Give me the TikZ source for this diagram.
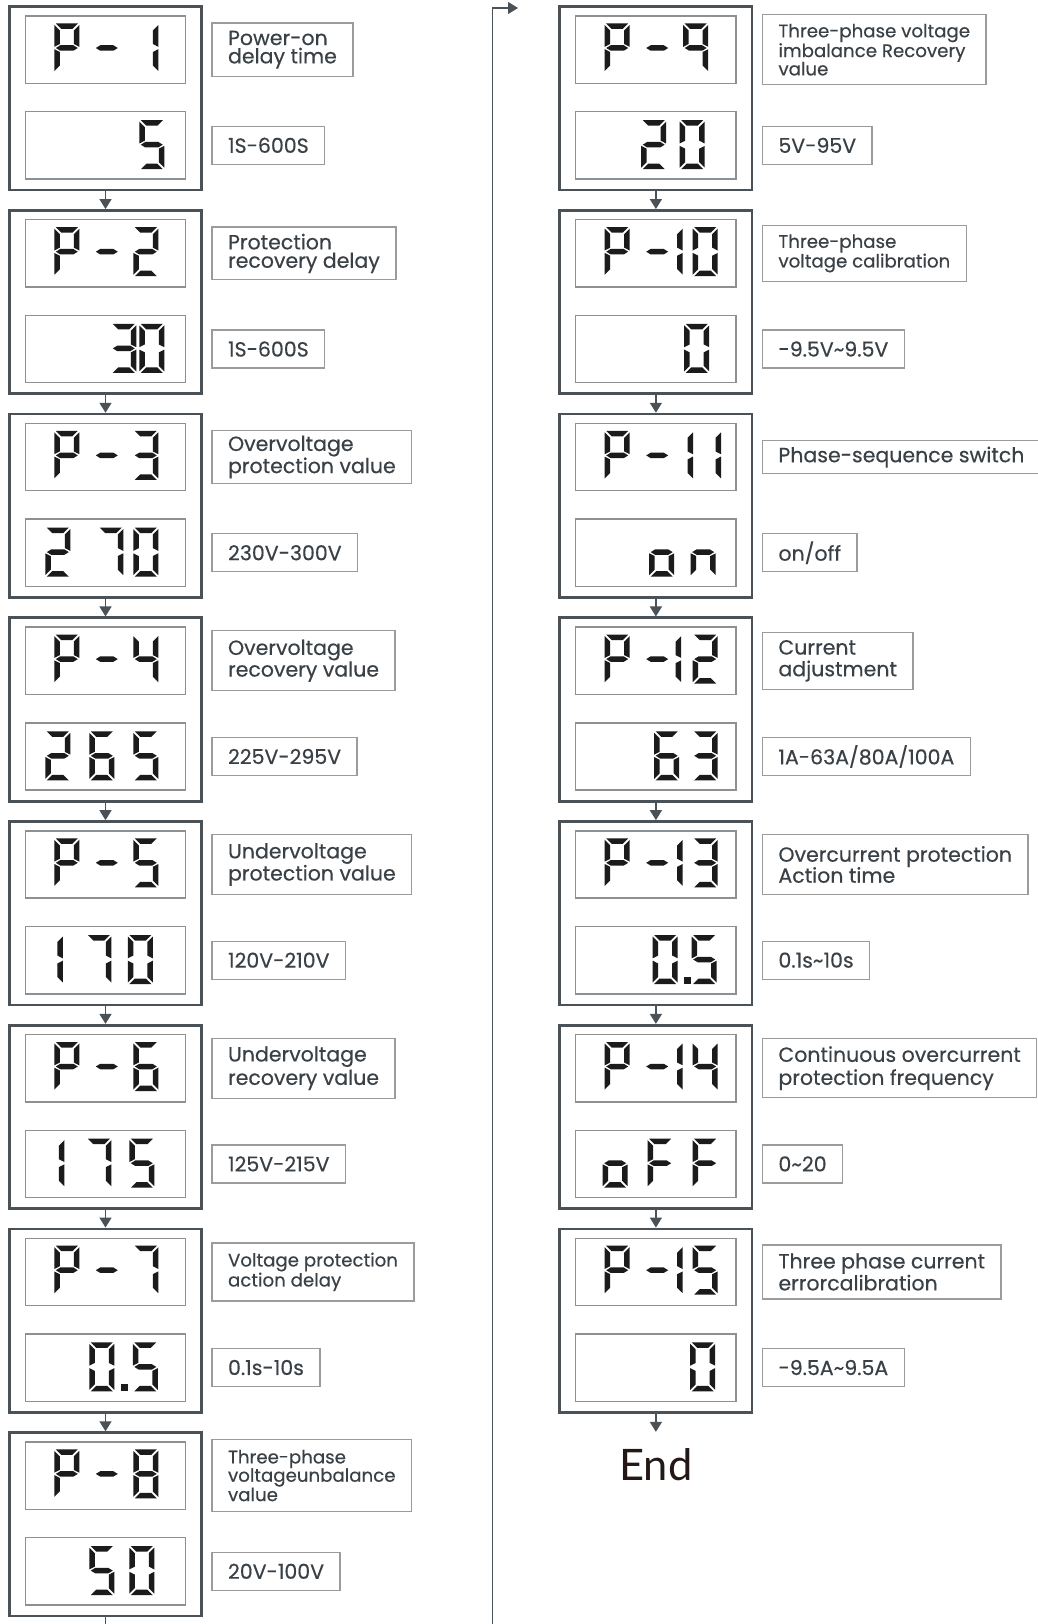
\documentclass[tikz,border=0pt]{standalone}
\usepackage{fontspec}
\setmainfont{Poppins}[FakeBold=0.35]
\newfontfamily\endfont{Lato}
\usetikzlibrary{positioning,arrows.meta}

\definecolor{framec}{HTML}{4A5157}
\definecolor{lcdframe}{HTML}{8E9194}
\definecolor{tagframe}{HTML}{9B9B9B}
\definecolor{tagtext}{HTML}{394046}
\definecolor{lcdink}{HTML}{1B1B1B}
\definecolor{endink}{HTML}{231815}

\newcommand{\lcdsegment}[2]{\expandafter\def\csname lcds#1\endcsname{#2}}
\newcommand{\lcdglyph}[2]{\expandafter\def\csname lcdg#1\endcsname{#2}}
\lcdsegment{a}{(1.5,0) -- (23.5,0) -- (18,5.5) -- (7,5.5) -- cycle}
\lcdsegment{b}{(25,1.5) -- (25,23.3) -- (19.5,20.5) -- (19.5,7) -- cycle}
\lcdsegment{c}{(25,25.7) -- (25,47.5) -- (19.5,42) -- (19.5,28.5) -- cycle}
\lcdsegment{d}{(1.5,49) -- (23.5,49) -- (18,43.5) -- (7,43.5) -- cycle}
\lcdsegment{e}{(0,25.7) -- (0,47.5) -- (5.5,42) -- (5.5,28.5) -- cycle}
\lcdsegment{f}{(0,1.5) -- (0,23.3) -- (5.5,20.5) -- (5.5,7) -- cycle}
\lcdsegment{g}{(1.5,24.5) -- (6,21.75) -- (19,21.75) -- (23.5,24.5) -- (19,27.25) -- (6,27.25) -- cycle}
\lcdsegment{p}{(0,42) rectangle (7,49)}
\lcdglyph{0}{a,b,c,d,e,f}
\lcdglyph{1}{b,c}
\lcdglyph{2}{a,b,d,e,g}
\lcdglyph{3}{a,b,c,d,g}
\lcdglyph{4}{b,c,f,g}
\lcdglyph{5}{a,c,d,f,g}
\lcdglyph{6}{a,c,d,e,f,g}
\lcdglyph{7}{a,b,c}
\lcdglyph{8}{a,b,c,d,e,f,g}
\lcdglyph{9}{a,b,c,f,g}
\lcdglyph{P}{a,b,e,f,g}
\lcdglyph{-}{g}
\lcdglyph{o}{c,d,e,g}
\lcdglyph{n}{c,e,g}
\lcdglyph{F}{a,e,f,g}
\lcdglyph{dot}{p}

\newcommand{\lcdput}[3]{%
  \edef\lcdsegs{\csname lcdg#3\endcsname}%
  \begin{scope}[shift={(#1,#2)}]
    \foreach \sg in \lcdsegs {\edef\lcdcmd{\noexpand\fill[lcdseg] \csname lcds\sg\endcsname;}\lcdcmd}
  \end{scope}}

\newcommand{\paramstep}[5]{%
  \node[stepbox] (#1) at (#2,#3+91.7) {};
  \node[lcdbox] (#1disp) at (#2,#3+43) {};
  \node[lcdbox] (#1val) at (#2,#3+138.65) {};
  \foreach \dx/\gl in {#4} {\lcdput{#2-80.2+\dx}{#3+16.8}{\gl}}
  \foreach \dx/\gl in {#5} {\lcdput{#2-80.2+\dx}{#3+113.5}{\gl}}}

\begin{document}
\begin{tikzpicture}[x=1pt, y=-1pt,
  stepbox/.style={draw=framec, line width=2.7pt, minimum width=192.4pt, minimum height=183.4pt, inner sep=0pt},
  lcdbox/.style={draw=lcdframe, line width=1.4pt, minimum width=160.4pt, minimum height=67.3pt, inner sep=0pt},
  lcdseg/.style={fill=lcdink},
  tag/.style={draw=tagframe, line width=1.3pt, text=tagtext, align=left, inner xsep=16pt, inner ysep=0pt,
    minimum height=38pt, font=\fontsize{20.5}{18.5}\selectfont},
  lead/.style={font=\fontsize{20.5}{#1}\selectfont},
  finelead/.style={font=\fontsize{18.2}{#1}\selectfont},
  flow/.style={draw=framec, line width=1.5pt, -{Triangle[width=12pt,length=10pt]}},
  back/.style={draw=framec, line width=1.2pt, -{Triangle[width=12pt,length=10pt]}}]
\useasboundingbox (0,0) rectangle (1038,1624);
\clip (0,0) rectangle (1038,1624);
\fill[white] (0,0) rectangle (1038,1624);

\paramstep{p1}{105.5}{6.7}{29/P,69/-,108/1}{114/5}
\paramstep{p2}{105.5}{210.4}{29/P,69/-,108/2}{86/3,114/0}
\paramstep{p3}{105.5}{414.1}{29/P,69/-,108/3}{20/2,73/7,108/0}
\paramstep{p4}{105.5}{617.8}{29/P,69/-,108/4}{20/2,64/6,108/5}
\paramstep{p5}{105.5}{821.5}{29/P,69/-,108/5}{12.5/1,61/7,102.5/0}
\paramstep{p6}{105.5}{1025.2}{29/P,69/-,108/6}{14/1,61/7,104/5}
\paramstep{p7}{105.5}{1228.9}{29/P,69/-,108/7}{64/0,95.5/dot,107.5/5}
\paramstep{p8}{105.5}{1432.6}{29/P,69/-,108/8}{64/5,104/0}
\paramstep{p9}{655.9}{6.7}{29/P,69/-,107.5/9}{65.5/2,104/0}
\paramstep{p10}{655.9}{210.4}{29/P,69/-,82/1,117/0}{108.5/0}
\paramstep{p11}{655.9}{414.1}{29/P,69/-,92.3/1,120.3/1}{73.5/o,115/n}
\paramstep{p12}{655.9}{617.8}{29/P,69/-,80.5/1,117/2}{78.5/6,117/3}
\paramstep{p13}{655.9}{821.5}{29/P,69/-,82/1,117/3}{77/0,108/dot,116/5}
\paramstep{p14}{655.9}{1025.2}{29/P,69/-,82/1,117/4}{27/o,72/F,117/F}
\paramstep{p15}{655.9}{1228.9}{29/P,69/-,82/1,117/5}{114.5/0}

\node[tag, lead=18.3, minimum height=53.3pt, right=25pt of p1disp] (p1name) {Power-on\\delay time};
\node[tag, right=25pt of p1val] (p1range) {1S-600S};
\node[tag, lead=18.4, minimum height=52.7pt, right=25pt of p2disp] (p2name) {Protection\\recovery delay};
\node[tag, right=25pt of p2val] (p2range) {1S-600S};
\node[tag, lead=18.6, minimum height=53pt, right=25pt of p3disp] (p3name) {Overvoltage\\protection value};
\node[tag, right=25pt of p3val] (p3range) {230V-300V};
\node[tag, lead=21.7, minimum height=60pt, right=25pt of p4disp] (p4name) {Overvoltage\\recovery value};
\node[tag, right=25pt of p4val] (p4range) {225V-295V};
\node[tag, lead=21, minimum height=60.6pt, right=25pt of p5disp] (p5name) {Undervoltage\\protection value};
\node[tag, right=25pt of p5val] (p5range) {120V-210V};
\node[tag, lead=23.4, minimum height=60pt, right=25pt of p6disp] (p6name) {Undervoltage\\recovery value};
\node[tag, right=25pt of p6val] (p6range) {125V-215V};
\node[tag, finelead=20, minimum height=58pt, right=25pt of p7disp] (p7name) {Voltage protection\\action delay};
\node[tag, right=25pt of p7val] (p7range) {0.1s-10s};
\node[tag, finelead=18.3, minimum height=72pt, right=25pt of p8disp] (p8name) {Three-phase\\voltageunbalance\\value};
\node[tag, right=25pt of p8val] (p8range) {20V-100V};
\node[tag, finelead=18.3, minimum height=70pt, right=25pt of p9disp] (p9name) {Three-phase voltage\\imbalance Recovery\\value};
\node[tag, right=25pt of p9val] (p9range) {5V-95V};
\node[tag, finelead=18.3, minimum height=55.6pt, right=25pt of p10disp] (p10name) {Three-phase\\voltage calibration};
\node[tag, right=25pt of p10val] (p10range) {-9.5V\textasciitilde 9.5V};
\node[tag, minimum height=33pt, right=25pt of p11disp] (p11name) {Phase-sequence switch};
\node[tag, right=25pt of p11val] (p11range) {on/off};
\node[tag, lead=21.7, minimum height=57pt, right=25pt of p12disp] (p12name) {Current\\adjustment};
\node[tag, right=25pt of p12val] (p12range) {1A-63A/80A/100A};
\node[tag, lead=21, minimum height=60pt, right=25pt of p13disp] (p13name) {Overcurrent protection\\Action time};
\node[tag, right=25pt of p13val] (p13range) {0.1s\textasciitilde 10s};
\node[tag, lead=23, minimum height=59pt, right=25pt of p14disp] (p14name) {Continuous overcurrent\\protection frequency};
\node[tag, right=25pt of p14val] (p14range) {0\textasciitilde 20};
\node[tag, lead=20.7, minimum height=54pt, right=25pt of p15disp] (p15name) {Three phase current\\errorcalibration};
\node[tag, right=25pt of p15val] (p15range) {-9.5A\textasciitilde 9.5A};

\node[anchor=base, inner xsep=0pt, inner ysep=16pt, text=endink, font=\endfont\fontsize{43.4}{44}\selectfont] (fin) at (655.9,1480) {End};
\coordinate (loopbot) at (492.5,1660);
\coordinate (loopin) at (518,8);

\draw[flow] (p1) -- (p2);
\draw[flow] (p2) -- (p3);
\draw[flow] (p3) -- (p4);
\draw[flow] (p4) -- (p5);
\draw[flow] (p5) -- (p6);
\draw[flow] (p6) -- (p7);
\draw[flow] (p7) -- (p8);
\draw[back] (p8) |- (loopbot) |- (loopin);
\draw[flow] (p9) -- (p10);
\draw[flow] (p10) -- (p11);
\draw[flow] (p11) -- (p12);
\draw[flow] (p12) -- (p13);
\draw[flow] (p13) -- (p14);
\draw[flow] (p14) -- (p15);
\draw[flow] (p15) -- (fin);
\end{tikzpicture}
\end{document}
